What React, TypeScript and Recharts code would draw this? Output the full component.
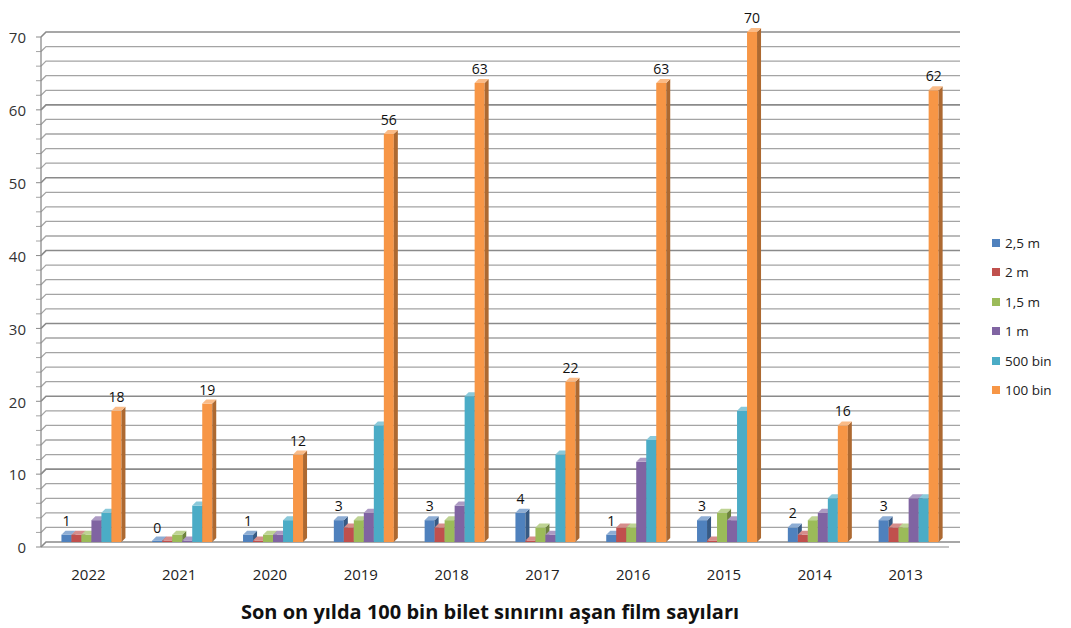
import React from 'react';
import { BarChart, Bar, XAxis, YAxis, CartesianGrid, Legend, LabelList } from 'recharts';

const years = ['2022', '2021', '2020', '2019', '2018', '2017', '2016', '2015', '2014', '2013'];
const m25 = [1, 0, 1, 3, 3, 4, 1, 3, 2, 3];
const m2 = [1, 0, 0, 2, 2, 0, 2, 0, 1, 2];
const m15 = [1, 1, 1, 3, 3, 2, 2, 4, 3, 2];
const m1 = [3, 0, 1, 4, 5, 1, 11, 3, 4, 6];
const bin500 = [4, 5, 3, 16, 20, 12, 14, 18, 6, 6];
const bin100 = [18, 19, 12, 56, 63, 22, 63, 70, 16, 62];

const seriesKeys = ['m25', 'm2', 'm15', 'm1', 'bin500', 'bin100'];
const seriesNames = ['2,5 m', '2 m', '1,5 m', '1 m', '500 bin', '100 bin'];
const seriesColors = ['#4F81BD', '#C0504D', '#9BBB59', '#8064A2', '#4BACC6', '#F79646'];

const yMax = 70;
const yTicks = [0, 10, 20, 30, 40, 50, 60, 70];
const gridTicks = Array.from({ length: 36 }, (_, i) => i * 2);

const title = 'Son on yılda 100 bin bilet sınırını aşan film sayıları';

const data = years.map((year, i) => ({
  year,
  m25: m25[i],
  m2: m2[i],
  m15: m15[i],
  m1: m1[i],
  bin500: bin500[i],
  bin100: bin100[i],
}));

const FONT = '"Open Sans", "Liberation Sans", sans-serif';
const DEPTH = 4;
const GRID = '#a4a4a4';
const GRID_MAJOR = '#8a8a8a';

const shade = (hex: string, f: number) => {
  const n = parseInt(hex.slice(1), 16);
  const c = [(n >> 16) & 255, (n >> 8) & 255, n & 255].map((v) =>
    Math.max(0, Math.min(255, Math.round(f < 1 ? v * f : v + (255 - v) * (f - 1))))
  );
  return `rgb(${c[0]},${c[1]},${c[2]})`;
};

// front face + darker side + lighter top, like the old 3D column chart
const Bar3D = (props: any) => {
  const { x, y, width, fill } = props;
  let h = props.height;
  let top = y;
  if (!h || h < 1.5) {
    h = 1.5;
    top = y - 1.5 + (props.height || 0);
  }
  const d = DEPTH;
  return (
    <g>
      <rect x={x} y={top} width={width} height={h} fill={fill} />
      <polygon
        points={`${x + width},${top} ${x + width + d},${top - d} ${x + width + d},${top + h - d} ${x + width},${top + h}`}
        fill={shade(fill, 0.7)}
      />
      <polygon
        points={`${x},${top} ${x + d},${top - d} ${x + width + d},${top - d} ${x + width},${top}`}
        fill={shade(fill, 1.35)}
      />
    </g>
  );
};

const HLine = (p: any) => {
  const { x1, x2, y1, index } = p;
  const major = typeof index === 'number' && index % 5 === 0;
  const col = major ? GRID_MAJOR : GRID;
  return (
    <g key={`hl-${y1}`}>
      <polyline
        points={`${x1 - 5},${y1 + 5} ${x1},${y1} ${x2 + 6},${y1}`}
        fill="none"
        stroke={col}
        strokeWidth={major ? 1.6 : 1.3}
      />
      <line x1={x1 - 10} x2={x1 - 5} y1={y1 + 5} y2={y1 + 5} stroke={col} strokeWidth={1} />
    </g>
  );
};

const VLine = (p: any) => (
  <line
    key={`vl-${p.x1}`}
    x1={p.x1 - 5}
    x2={p.x1 - 5}
    y1={p.y1 + 5}
    y2={p.y2 + 5}
    stroke={GRID_MAJOR}
    strokeWidth={1.3}
  />
);

const XTick = (p: any) => (
  <text x={p.x - 3} y={p.y + 30} textAnchor="middle" fontSize={15} fill="#222" fontFamily={FONT}>
    {p.payload.value}
  </text>
);

const LegendBox = () => (
  <div style={{ fontFamily: FONT, fontSize: 13.5, color: '#222' }}>
    {seriesNames.map((name, i) => (
      <div key={name} style={{ display: 'flex', alignItems: 'center', height: 29.5 }}>
        <span
          style={{ width: 8, height: 8, background: seriesColors[i], marginRight: 5, display: 'inline-block' }}
        />
        {name}
      </div>
    ))}
  </div>
);

const gridCoords = ({ yAxis, offset }: any) =>
  gridTicks.map((v) =>
    yAxis && typeof yAxis.scale === 'function'
      ? yAxis.scale(v)
      : offset.top + offset.height * (1 - v / yMax)
  );

export default function App() {
  return (
    <div style={{ position: 'relative', width: 1063, height: 620, background: '#fff' }}>
      <BarChart
        width={1063}
        height={620}
        data={data}
        margin={{ top: 24, right: 37, left: 0, bottom: 46 }}
        barCategoryGap="17%"
        barGap={0}
      >
        <CartesianGrid
          yAxisId="main"
          horizontal={HLine}
          vertical={VLine}
          horizontalCoordinatesGenerator={gridCoords}
          verticalCoordinatesGenerator={({ offset }: any) => [offset.left]}
        />
        <YAxis
          yAxisId="main"
          width={38}
          domain={[0, yMax]}
          ticks={yTicks}
          interval={0}
          axisLine={false}
          tickLine={false}
          tickMargin={14}
          tick={{ fontSize: 15, fill: '#333', fontFamily: FONT, dy: 6 }}
        />
        <XAxis
          dataKey="year"
          height={40}
          axisLine={{ stroke: GRID_MAJOR, transform: 'translate(-5,5)' }}
          tickLine={false}
          tick={XTick}
          interval={0}
        />
        <Legend
          layout="vertical"
          align="right"
          verticalAlign="top"
          content={LegendBox}
          wrapperStyle={{ left: 984, top: 220, width: 80 }}
        />
        {seriesKeys.map((k, i) => (
          <Bar
            key={k}
            yAxisId="main"
            dataKey={k}
            name={seriesNames[i]}
            fill={seriesColors[i]}
            shape={Bar3D}
            isAnimationActive={false}
          >
            {(i === 0 || i === seriesKeys.length - 1) && (
              <LabelList
                dataKey={k}
                position="top"
                offset={9}
                fontSize={14}
                fill="#111"
                fontFamily={FONT}
              />
            )}
          </Bar>
        ))}
      </BarChart>
      <div
        style={{
          position: 'absolute',
          left: 482,
          top: 590,
          transform: 'translateX(-50%)',
          whiteSpace: 'nowrap',
          fontFamily: FONT,
          fontWeight: 700,
          fontSize: 20,
          color: '#111',
        }}
      >
        {title}
      </div>
    </div>
  );
}
